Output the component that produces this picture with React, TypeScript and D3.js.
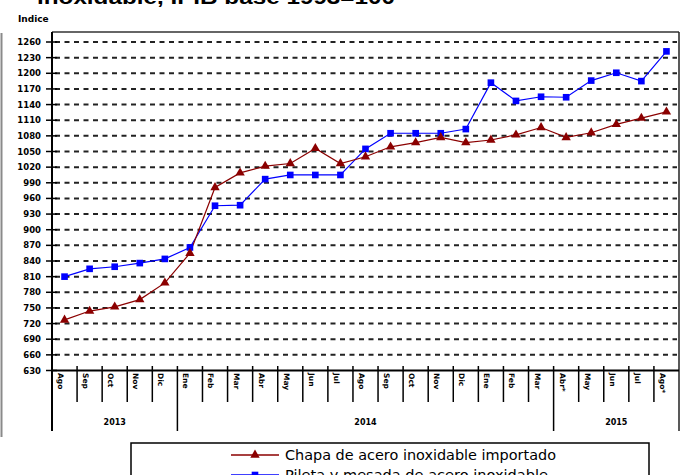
import React from "react";
import * as d3 from "d3";

const months = [
  "Ago", "Sep", "Oct", "Nov", "Dic",
  "Ene", "Feb", "Mar", "Abr", "May", "Jun", "Jul", "Ago", "Sep", "Oct", "Nov", "Dic", "Ene", "Feb", "Mar",
  "Abr*", "May", "Jun", "Jul", "Ago*",
];
const yearGroups = [
  { label: "2013", count: 5 },
  { label: "2014", count: 15 },
  { label: "2015", count: 5 },
];
const chapa = [
  727, 744, 752, 766, 798,
  855, 981, 1009, 1022, 1027, 1056, 1027, 1040, 1059, 1067, 1077, 1067, 1072, 1082, 1096,
  1077, 1086, 1102, 1114, 1126,
];
const pileta = [
  810, 825, 829, 836, 844,
  866, 946, 947, 997, 1005, 1005, 1005, 1055, 1085, 1085, 1085, 1093, 1182, 1147, 1155,
  1154, 1186, 1201, 1185, 1242,
];
const yTicks = [630, 660, 690, 720, 750, 780, 810, 840, 870, 900, 930, 960, 990, 1020, 1050, 1080, 1110, 1140, 1170, 1200, 1230, 1260];

const W = 686;
const H = 475;
const left = 52;
const right = 679;
const top = 32;
const bottom = 370.5;

const x = d3.scaleBand<number>().domain(d3.range(months.length)).range([left, right]);
const y = d3.scaleLinear().domain([630, 1260]).range([bottom, 42]);
const cx = (i: number) => (x(i) as number) + x.bandwidth() / 2;

const line = d3
  .line<number>()
  .x((_, i) => cx(i))
  .y((d) => y(d));

const tri = d3.symbol().type(d3.symbolTriangle).size(38)();
const sq = d3.symbol().type(d3.symbolSquare).size(44)();

const RED = "#8b0000";
const BLUE = "#0000ff";

export default function App() {
  let acc = 0;
  const groups = yearGroups.map((g) => {
    const s = acc;
    acc += g.count;
    return { ...g, start: s, end: acc };
  });

  return (
    <svg width={W} height={H} style={{ position: "absolute", left: 0, top: 0, background: "#fff" }} fontFamily="DejaVu Sans">
      <rect width={W} height={H} fill="#fff" />
      {/* title, cut off by the top edge */}
      <text x={37} y={3.5} fontFamily="Liberation Sans" fontWeight="bold" fontSize={20} textLength={358} lengthAdjust="spacingAndGlyphs">
        inoxidable, IPIB base 1993=100
      </text>
      <text x={18} y={22} fontSize={9} fontWeight="bold">Indice</text>
      <line x1={1.5} x2={1.5} y1={33} y2={437} stroke="#8a8a8a" strokeWidth={2} />

      {/* gridlines */}
      {yTicks.slice(1).map((t) => (
        <line key={t} x1={55} x2={right - 2} y1={y(t)} y2={y(t)} stroke="#222" strokeWidth={2} strokeDasharray="5,4.5" />
      ))}
      {/* frame */}
      <line x1={left} x2={right} y1={top} y2={top} stroke="#333" strokeWidth={1.5} />
      <line x1={right} x2={right} y1={top} y2={431} stroke="#222" strokeWidth={1.5} />
      <line x1={left} x2={left} y1={top} y2={431} stroke="#000" strokeWidth={2} />
      <line x1={left} x2={right} y1={bottom} y2={bottom} stroke="#000" strokeWidth={2} />

      {/* y ticks */}
      {yTicks.map((t) => (
        <g key={t}>
          <line x1={46} x2={57} y1={y(t)} y2={y(t)} stroke="#000" strokeWidth={1.5} />
          <text x={41} y={y(t) + 3} textAnchor="end" fontSize={8.5} fontWeight="bold">{t}</text>
        </g>
      ))}

      {/* x ticks */}
      {d3.range(1, months.length).map((i) => {
        const isYear = groups.some((g) => g.start === i);
        return (
          <line key={i} x1={x(i)} x2={x(i)} y1={366} y2={isYear ? 431 : 402} stroke="#000" strokeWidth={1.5} />
        );
      })}
      {months.map((m, i) => (
        <text key={i} transform={`translate(${(x(i) as number) + 6},373) rotate(90)`} fontSize={7.5} fontWeight="bold">
          {m}
        </text>
      ))}
      {groups.map((g) => (
        <text key={g.label} x={((x(g.start) as number) + (g.end < months.length ? (x(g.end) as number) : right)) / 2} y={425} textAnchor="middle" fontSize={8} fontWeight="bold">
          {g.label}
        </text>
      ))}

      {/* series */}
      <path d={line(pileta) || ""} fill="none" stroke={BLUE} strokeWidth={1.2} />
      <path d={line(chapa) || ""} fill="none" stroke={RED} strokeWidth={1.2} />
      {pileta.map((v, i) => (
        <path key={i} d={sq || ""} transform={`translate(${cx(i)},${y(v)})`} fill={BLUE} />
      ))}
      {chapa.map((v, i) => (
        <path key={i} d={tri || ""} transform={`translate(${cx(i)},${y(v)})`} fill={RED} />
      ))}

      {/* legend */}
      <rect x={131} y={443} width={518} height={60} fill="#fff" stroke="#000" strokeWidth={1.5} />
      <line x1={231} x2={279} y1={455} y2={455} stroke={RED} strokeWidth={1.5} />
      <path d={tri || ""} transform="translate(255,455)" fill={RED} />
      <text x={285} y={460} fontSize={14} textLength={271} lengthAdjust="spacingAndGlyphs">Chapa de acero inoxidable importado</text>
      <line x1={231} x2={279} y1={475} y2={475} stroke={BLUE} strokeWidth={1.5} />
      <path d={sq || ""} transform="translate(255,475)" fill={BLUE} />
      <text x={285} y={480} fontSize={14} textLength={263} lengthAdjust="spacingAndGlyphs">Pileta y mesada de acero inoxidable</text>
    </svg>
  );
}
